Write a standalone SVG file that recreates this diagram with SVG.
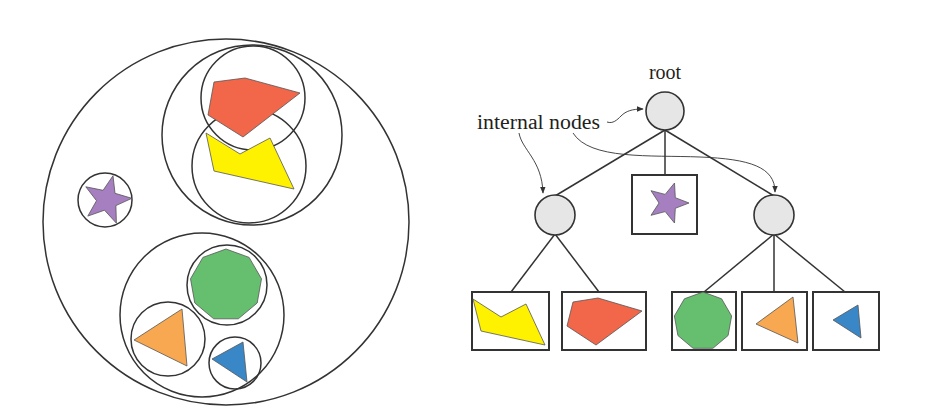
<svg xmlns="http://www.w3.org/2000/svg" width="925" height="420" viewBox="0 0 925 420">
<style>
.ring{fill:none;stroke:#333;stroke-width:1.5}
.node{fill:#e6e6e6;stroke:#333;stroke-width:1.6}
.box{fill:#fff;stroke:#333;stroke-width:2}
.edge{stroke:#333;stroke-width:1.5;fill:none}
.ann{stroke:#333;stroke-width:0.9;fill:none}
.sh{stroke:#555;stroke-width:0.8;stroke-linejoin:round}
.red{fill:#f26649}.yel{fill:#fff200}.grn{fill:#66bf6f}.org{fill:#f9a852}.blu{fill:#3a87c8}.pur{fill:#a57fbf}
text{font-family:"Liberation Serif","Times New Roman",serif;font-size:20px;fill:#231f20}
</style>
<defs>
<marker id="ah" viewBox="0 0 10 10" refX="9" refY="5" markerWidth="7" markerHeight="7" orient="auto" markerUnits="userSpaceOnUse">
<path d="M0,1 L10,5 L0,9 z" fill="#333"/>
</marker>
</defs>
<rect width="925" height="420" fill="#fff"/>
<g id="left-hierarchy">
<circle class="ring" cx="226" cy="222" r="183"/>
<circle class="ring" cx="252" cy="135" r="90"/>
<circle class="ring" cx="253" cy="98" r="52"/>
<circle class="ring" cx="249" cy="166" r="57"/>
<polygon class="sh red" points="214,82 245,78 300,93 243,137 208,115"/>
<polygon class="sh yel" points="206,133 240,154 270,138 294,189 214,171"/>
<circle class="ring" cx="105" cy="200" r="27"/>
<polygon class="sh pur" points="131.9,198.3 115.9,205.6 116.4,223.2 104.5,210.2 87.8,216.1 96.5,200.7 85.8,186.8 103.1,190.3 113,175.7 115,193.3"/>
<circle class="ring" cx="202" cy="315" r="82"/>
<circle class="ring" cx="227" cy="285" r="40"/>
<polygon class="sh grn" points="226,249 249.1,257.4 261.5,278.8 257.2,303 238.3,318.8 213.7,318.8 194.8,303 190.5,278.8 202.9,257.4"/>
<circle class="ring" cx="168" cy="339" r="37"/>
<polygon class="sh org" points="182,309 187,366 134,340"/>
<circle class="ring" cx="235" cy="363" r="26"/>
<polygon class="sh blu" points="243,342 247,382 212,359"/>
</g>
<g id="connectors">
<line class="edge" x1="665" y1="130" x2="555" y2="196"/>
<line class="edge" x1="665" y1="130" x2="665" y2="175"/>
<line class="edge" x1="665" y1="130" x2="774" y2="196"/>
<line class="edge" x1="555" y1="234" x2="511" y2="292"/>
<line class="edge" x1="555" y1="234" x2="599" y2="292"/>
<line class="edge" x1="774" y1="234" x2="704" y2="292"/>
<line class="edge" x1="774" y1="234" x2="774" y2="292"/>
<line class="edge" x1="774" y1="234" x2="845" y2="292"/>
</g>
<g id="annotations">
<text x="665" y="79" text-anchor="middle">root</text>
<text x="477" y="129" textLength="123" lengthAdjust="spacingAndGlyphs">internal nodes</text>
<path class="ann" d="M607,122 C613,124 617,120 621,116 C626,111 632,109 643,109" marker-end="url(#ah)"/>
<path class="ann" d="M519,133 C522,150 542,160 543,193" marker-end="url(#ah)"/>
<path class="ann" d="M573,133 C590,160 650,155 700,157 C750,159 775,167 775,192" marker-end="url(#ah)"/>
</g>
<g id="root"><circle class="node" cx="665" cy="111" r="19"/></g>
<g id="internal-left"><circle class="node" cx="555" cy="215" r="20"/></g>
<g id="internal-right"><circle class="node" cx="774" cy="215" r="20"/></g>
<g id="leaf-star">
<rect class="box" x="632" y="175" width="65" height="59"/>
<polygon class="sh pur" points="689,203 675.3,208.3 674.5,223 665.2,211.6 651,215.3 659,203 651,190.7 665.2,194.4 674.5,183 675.3,197.7"/>
</g>
<g id="leaf-yellow">
<rect class="box" x="472" y="292" width="77" height="58"/>
<polygon class="sh yel" points="473,299 501,317 526,304 545,345 481,331"/>
</g>
<g id="leaf-red">
<rect class="box" x="562" y="292" width="84" height="58"/>
<polygon class="sh red" points="573,302 598,298 642,311 596,345 567,326"/>
</g>
<g id="leaf-green">
<rect class="box" x="672" y="292" width="64" height="58"/>
<polygon class="sh grn" points="703,292 721.6,298.8 731.6,316 728.1,335.5 712.9,348.3 693.1,348.3 677.9,335.5 674.4,316 684.4,298.8"/>
</g>
<g id="leaf-orange">
<rect class="box" x="742" y="292" width="65" height="58"/>
<polygon class="sh org" points="793,297 798,343 756,324"/>
</g>
<g id="leaf-blue">
<rect class="box" x="813" y="292" width="66" height="58"/>
<polygon class="sh blu" points="858,305 861,338 833,320"/>
</g>
</svg>
